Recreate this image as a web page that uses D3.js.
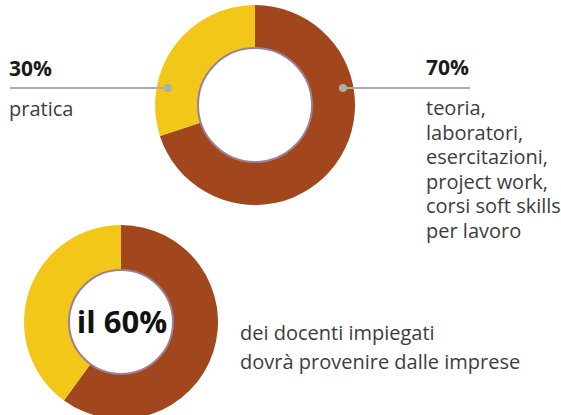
<!DOCTYPE html>
<html>
<head>
<meta charset="utf-8">
<script src="https://cdn.jsdelivr.net/npm/d3@7"></script>
<style>
  body { margin: 0; background: #fff; }
  svg { display: block; font-family: "Open Sans", sans-serif; }
</style>
</head>
<body>
<svg width="561" height="415"></svg>
<script>
// data
const studyLabels = ["teoria e laboratori", "pratica"];
const studyValues = [70, 30];
const teacherLabels = ["dalle imprese", "altri"];
const teacherValues = [60, 40];
const rightText = ["teoria,", "laboratori,", "esercitazioni,", "project work,", "corsi soft skills", "per lavoro"];
const bottomText = ["dei docenti impiegati", "dovrà provenire dalle imprese"];

const svg = d3.select("svg");
const colors = ["#a2461d", "#f3c71a"];

const pie = d3.pie().sort(null).value(d => d);

function donut(values, cx, cy, rOut, rIn) {
  const g = svg.append("g").attr("transform", `translate(${cx},${cy})`);
  const arc = d3.arc().innerRadius(rIn).outerRadius(rOut);
  g.selectAll("path")
    .data(pie(values))
    .enter().append("path")
    .attr("d", arc)
    .attr("fill", (d, i) => colors[i]);
  g.append("circle")
    .attr("r", rIn)
    .attr("fill", "#fff")
    .attr("stroke", "#9c8193")
    .attr("stroke-width", 2);
  return g;
}

// top donut
const topDonut = { cx: 255, cy: 105, r: 100, ri: 57 };
donut(studyValues, topDonut.cx, topDonut.cy, topDonut.r, topDonut.ri);

// leader lines
const lineY = 88;
const leaders = [
  { x1: 10, x2: 168 },
  { x1: 343, x2: 470 }
];
svg.selectAll("line.lead")
  .data(leaders)
  .enter().append("line")
  .attr("x1", d => d.x1).attr("x2", d => d.x2)
  .attr("y1", lineY).attr("y2", lineY)
  .attr("stroke", "#a9adab").attr("stroke-width", 2);
svg.selectAll("circle.dot")
  .data([168, 343])
  .enter().append("circle")
  .attr("cx", d => d).attr("cy", lineY).attr("r", 4)
  .attr("fill", "#a9adab");

// percentage labels
svg.append("text")
  .attr("x", 9).attr("y", 76)
  .attr("font-size", 21).attr("font-weight", 700).attr("fill", "#1a1a1a")
  .text(studyValues[1] + "%");
svg.append("text")
  .attr("x", 426).attr("y", 75)
  .attr("font-size", 21).attr("font-weight", 700).attr("fill", "#1a1a1a")
  .text(studyValues[0] + "%");

svg.append("text")
  .attr("x", 9).attr("y", 116)
  .attr("font-size", 20).attr("fill", "#3d3d3d")
  .text(studyLabels[1]);

svg.append("g").selectAll("text")
  .data(rightText)
  .enter().append("text")
  .attr("x", 426)
  .attr("y", (d, i) => 115 + i * 24.6)
  .attr("font-size", 20).attr("fill", "#3d3d3d")
  .text(d => d);

// bottom donut
const botDonut = { cx: 121, cy: 322, r: 97, ri: 52 };
const g2 = donut(teacherValues, botDonut.cx, botDonut.cy, botDonut.r, botDonut.ri);
g2.append("text")
  .attr("text-anchor", "middle")
  .attr("x", 1)
  .attr("y", 11)
  .attr("font-size", 31).attr("font-weight", 700).attr("fill", "#111")
  .text("il " + teacherValues[0] + "%");

svg.append("g").selectAll("text")
  .data(bottomText)
  .enter().append("text")
  .attr("x", 240)
  .attr("y", (d, i) => 340 + i * 29)
  .attr("font-size", 20).attr("fill", "#3d3d3d")
  .text(d => d);
</script>
</body>
</html>
